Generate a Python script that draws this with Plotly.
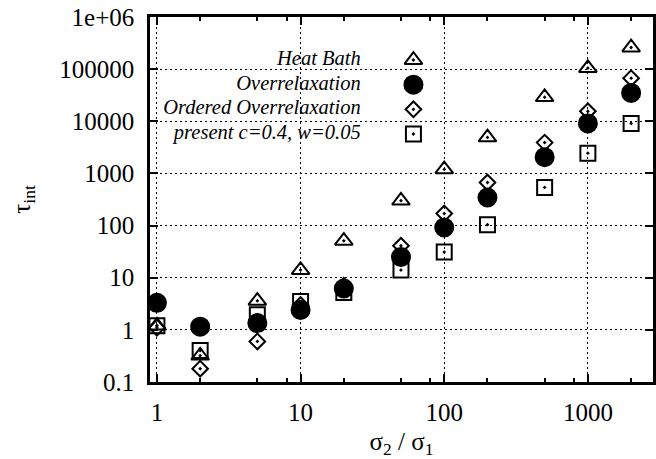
import math
import plotly.graph_objects as go

# ---------------- data ----------------
ratio = [1, 2, 5, 10, 20, 50, 100, 200, 500, 1000, 2000]
heat_bath = [1.2, 0.32, 3.6, 14, 51, 300, 1200, 4900, 29000, 105000, 260000]
overrelaxation = [3.3, 1.15, 1.35, 2.4, 6.2, 25, 92, 345, 2050, 9100, 35000]
ordered_overrelaxation = [1.1, 0.18, 0.6, 3.0, 7.0, 41, 170, 670, 3900, 15600, 67000]
present = [1.2, 0.4, 1.95, 3.5, 5.2, 14, 31, 104, 540, 2450, 9100]

series_names = ["Heat Bath", "Overrelaxation", "Ordered Overrelaxation",
                "present c=0.4, w=0.05"]

x_tick_vals = [1, 10, 100, 1000]
x_tick_text = ["1", "10", "100", "1000"]
x_minor_vals = [2, 5, 8, 20, 50, 80, 200, 500, 800, 2000]
y_tick_vals = [0.1, 1, 10, 100, 1000, 10000, 100000, 1000000]
y_tick_text = ["0.1", "1", "10", "100", "1000", "10000", "100000", "1e+06"]

# ---------------- style ----------------
W, H = 656, 459
L, R, T, B = 150, 0, 17, 77
PW, PH = W - L - R, H - T - B
FONT = "Liberation Serif"
symbols = ["triangle-up-open-dot", "circle", "diamond-open-dot", "square-open-dot"]
sizes = [15.5, 18, 12, 15]
series = [heat_bath, overrelaxation, ordered_overrelaxation, present]

fig = go.Figure()
for name, ys, sym, sz in zip(series_names, series, symbols, sizes):
    fig.add_trace(go.Scatter(
        x=ratio, y=ys, mode="markers", name=name, showlegend=False,
        marker=dict(symbol=sym, size=sz, color="black",
                    line=dict(color="black", width=2)),
        cliponaxis=False,
    ))

# key (symbols on the right of right-aligned italic labels)
rows = list(range(len(series_names)))
fig.add_trace(go.Scatter(
    x=[0] * len(rows), y=rows, mode="text", text=series_names,
    textposition="middle left", showlegend=False, hoverinfo="skip",
    textfont=dict(family=FONT, size=20.5, style="italic", color="black"),
    xaxis="x2", yaxis="y2", cliponaxis=False,
))
for i, (name, sym, sz) in enumerate(zip(series_names, symbols, sizes)):
    fig.add_trace(go.Scatter(
        x=[1], y=[rows[i]], mode="markers", showlegend=False, hoverinfo="skip",
        marker=dict(symbol=sym, size=sz, color="black",
                    line=dict(color="black", width=2)),
        xaxis="x2", yaxis="y2", cliponaxis=False,
    ))

def px_x(p):
    return (p - L) / PW

def px_y(p):
    return (H - B - p) / PH

axis_common = dict(
    showline=True, linecolor="black", linewidth=2.5, mirror="ticks",
    ticks="inside", ticklen=8, tickwidth=2, tickcolor="black",
    showgrid=True, gridcolor="black", gridwidth=1, griddash="2px,3px",
    zeroline=False,
    tickfont=dict(family=FONT, size=25, color="black"),
)

fig.update_layout(
    width=W, height=H,
    margin=dict(l=L, r=R, t=T, b=B),
    paper_bgcolor="white", plot_bgcolor="rgba(0,0,0,0)",
    font=dict(family=FONT, color="black"),
    xaxis=dict(
        type="log", range=[math.log10(0.895), math.log10(2840)],
        tickmode="array", tickvals=x_tick_vals, ticktext=x_tick_text,
        ticklabelstandoff=6,
        minor=dict(tickmode="array", tickvals=x_minor_vals, ticks="inside",
                   ticklen=4, tickwidth=2, tickcolor="black", showgrid=False),
        title=dict(text="σ<sub>2</sub> / σ<sub>1</sub>", standoff=8,
                   font=dict(family=FONT, size=25, color="black")),
        **axis_common,
    ),
    yaxis=dict(
        type="log", range=[-1, 6],
        tickmode="array", tickvals=y_tick_vals, ticktext=y_tick_text,
        ticklabelstandoff=8,
        title=dict(text="τ<sub>int</sub>", standoff=22,
                   font=dict(family=FONT, size=25, color="black")),
        **axis_common,
    ),
    xaxis2=dict(domain=[px_x(362), px_x(415)], range=[0, 1], visible=False,
                anchor="y2"),
    yaxis2=dict(domain=[px_y(134), px_y(60)], range=[3, 0], visible=False,
                anchor="x2"),
)

fig.write_html("out.html", config={"displayModeBar": False},
               post_script="document.body.style.margin='0';")
